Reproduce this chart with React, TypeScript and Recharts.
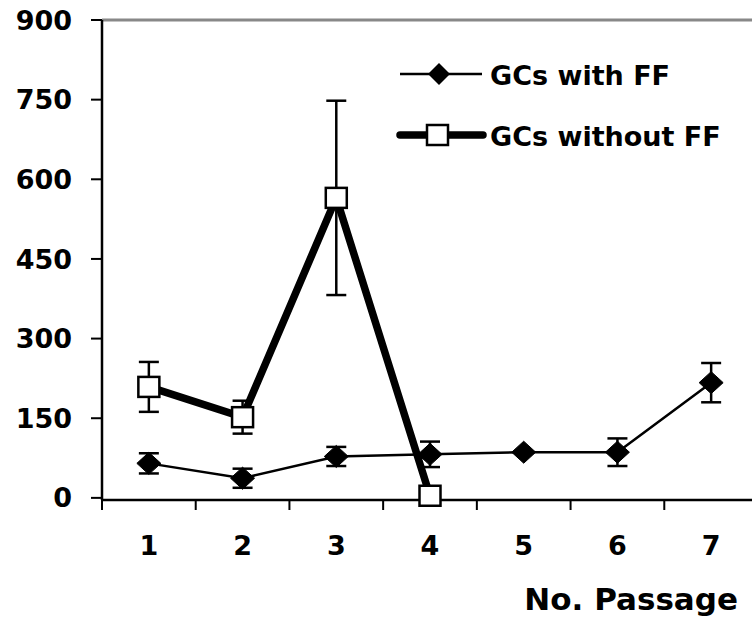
import React from 'react';
import { LineChart, Line, XAxis, YAxis, ErrorBar, ReferenceLine, Legend } from 'recharts';

const passages = [1, 2, 3, 4, 5, 6, 7];
const withFF = [65, 37, 78, 82, 86, 86, 217];
const withFFErr = [19, 18, 18, 24, 0, 26, 37];
const withoutFF = [209, 152, 565, 4, null, null, null];
const withoutFFErr = [47, 31, 183, 8, null, null, null];
const yTicks = [0, 150, 300, 450, 600, 750, 900];
const xTicks = [0.5, 1, 1.5, 2, 2.5, 3, 3.5, 4, 4.5, 5, 5.5, 6, 6.5, 7, 7.5];

const data = passages.map((p, i) => ({
  passage: p,
  withFF: withFF[i],
  withFFErr: withFFErr[i],
  withoutFF: withoutFF[i],
  withoutFFErr: withoutFFErr[i],
}));

const FONT = '"DejaVu Sans", sans-serif';

const Diamond = (props: any) => {
  const { cx, cy } = props;
  if (cx == null || cy == null) return null;
  return <polygon points={`${cx - 12},${cy} ${cx},${cy - 11} ${cx + 12},${cy} ${cx},${cy + 11}`} fill="#000" stroke="#000" strokeWidth={1} />;
};

const Square = (props: any) => {
  const { cx, cy, value } = props;
  if (cx == null || cy == null || value == null) return null;
  return <rect x={cx - 10.5} y={cy - 10} width={21} height={20} fill="#fff" stroke="#000" strokeWidth={2.5} />;
};

const XTick = (props: any) => {
  const { x, y, payload } = props;
  const v = payload.value;
  if (Number.isInteger(v)) {
    return (
      <text x={x} y={y + 55} textAnchor="middle" fontFamily={FONT} fontWeight="bold" fontSize={27} fill="#000">
        {v}
      </text>
    );
  }
  return <line x1={x} y1={y} x2={x} y2={y + 10} stroke="#000" strokeWidth={2} />;
};

const LegendContent = () => (
  <svg width={360} height={100} style={{ display: 'block' }}>
    <line x1={5} y1={17} x2={87} y2={17} stroke="#000" strokeWidth={2.5} />
    <polygon points={`${33},17 ${44},6 ${55},17 ${44},28`} fill="#000" />
    <text x={95} y={28} fontFamily={FONT} fontWeight="bold" fontSize={27} fill="#000">GCs with FF</text>
    <line x1={5} y1={78} x2={88} y2={78} stroke="#000" strokeWidth={7.5} strokeLinecap="round" />
    <rect x={32} y={68} width={21} height={20} fill="#fff" stroke="#000" strokeWidth={2.5} />
    <text x={95} y={89} fontFamily={FONT} fontWeight="bold" fontSize={27} fill="#000">GCs without FF</text>
  </svg>
);

export default function App() {
  return (
    <div style={{ position: 'absolute', left: 0, top: 0, width: 752, height: 618, overflow: 'hidden', background: '#fff' }}>
      <LineChart width={760} height={618} data={data} margin={{ top: 20, right: 2, left: 0, bottom: 0 }}>
        <XAxis
          dataKey="passage"
          type="number"
          domain={[0.5, 7.5]}
          ticks={xTicks}
          interval={0}
          tickLine={false}
          tickSize={0}
          tickMargin={0}
          tick={<XTick />}
          height={118}
          axisLine={{ stroke: '#000', strokeWidth: 2.5 }}
          label={{
            content: (p: any) => {
              const vb = p.viewBox;
              return (
                <text x={vb.x + vb.width - 20} y={vb.y + 110} textAnchor="end" fontFamily={FONT} fontWeight="bold" fontSize={31} fill="#000">
                  No. Passage
                </text>
              );
            },
          }}
        />
        <YAxis
          domain={[0, 900]}
          ticks={yTicks}
          interval={0}
          width={102}
          tickSize={11}
          tickMargin={19}
          axisLine={{ stroke: '#000', strokeWidth: 2.5 }}
          tickLine={{ stroke: '#000', strokeWidth: 2 }}
          tick={{ fontFamily: FONT, fontWeight: 'bold', fontSize: 27, fill: '#000' }}
        />
        <ReferenceLine y={900} stroke="#888" strokeWidth={3} />
        <Legend
          verticalAlign="middle"
          align="center"
          layout="vertical"
          wrapperStyle={{ left: 395, top: 57, width: 360, height: 100 }}
          content={<LegendContent />}
        />
        <Line
          dataKey="withFF"
          name="GCs with FF"
          stroke="#000"
          strokeWidth={2.5}
          dot={<Diamond />}
          activeDot={false}
          isAnimationActive={false}
        >
          <ErrorBar dataKey="withFFErr" width={10} stroke="#000" strokeWidth={2.5} direction="y" />
        </Line>
        <Line
          dataKey="withoutFF"
          name="GCs without FF"
          stroke="#000"
          strokeWidth={7.5}
          dot={<Square />}
          activeDot={false}
          connectNulls={false}
          isAnimationActive={false}
        >
          <ErrorBar dataKey="withoutFFErr" width={10} stroke="#000" strokeWidth={2.5} direction="y" />
        </Line>
      </LineChart>
    </div>
  );
}
